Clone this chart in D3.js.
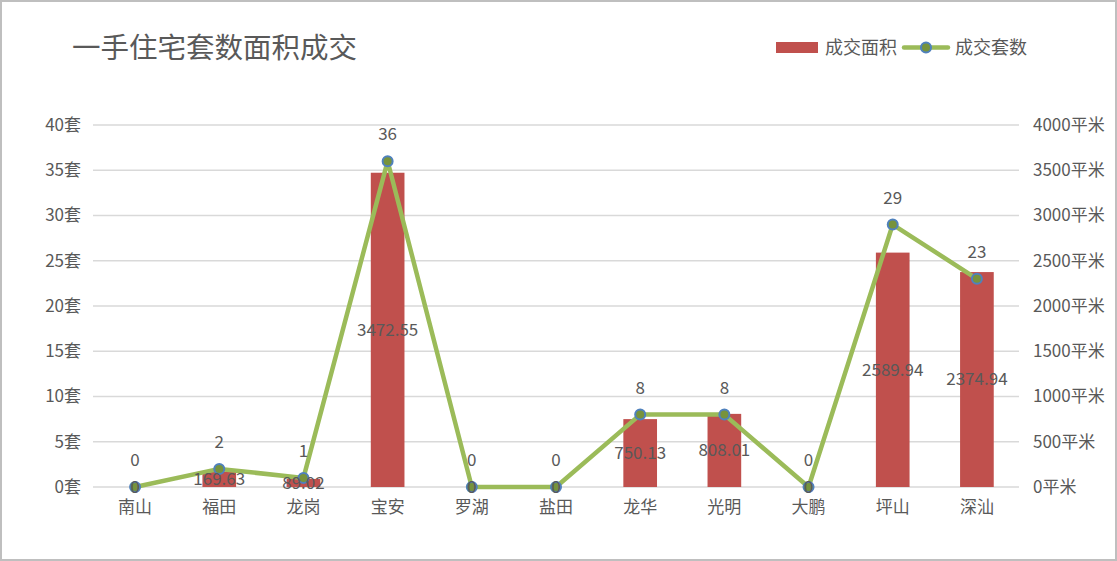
<!DOCTYPE html>
<html><head><meta charset="utf-8">
<script src="https://cdn.jsdelivr.net/npm/d3@7/dist/d3.min.js"></script>
<style>
html,body{margin:0;padding:0;background:#fff;}
svg text{font-family:"Noto Sans CJK SC","Microsoft YaHei",sans-serif;fill:#595959;}
</style></head>
<body>
<svg id="c" width="1117" height="561"></svg>
<script>
const categories = ["南山","福田","龙岗","宝安","罗湖","盐田","龙华","光明","大鹏","坪山","深汕"];
const areaValues = [0,169.63,89.02,3472.55,0,0,750.13,808.01,0,2589.94,2374.94];
const countValues = [0,2,1,36,0,0,8,8,0,29,23];
const leftTicks = [0,5,10,15,20,25,30,35,40];
const rightTicks = [0,500,1000,1500,2000,2500,3000,3500,4000];

const svg = d3.select("#c");
const W = 1117, H = 561;
svg.append("rect").attr("x",1).attr("y",1).attr("width",W-2).attr("height",H-2)
  .attr("fill","#fff").attr("stroke","#bfbfbf").attr("stroke-width",2);

const x = d3.scaleBand().domain(categories).range([93,1019]).paddingInner(0.6).paddingOuter(0.3);
const xc = d => x(d) + x.bandwidth()/2;
const yL = d3.scaleLinear().domain([0,40]).range([487,125]);
const yR = d3.scaleLinear().domain([0,4000]).range([487,125]);

// gridlines
svg.append("g").selectAll("line").data(leftTicks).join("line")
  .attr("x1",93).attr("x2",1019).attr("y1",d=>yL(d)).attr("y2",d=>yL(d))
  .attr("stroke","#d9d9d9").attr("stroke-width",1.5);

// left axis
const gL = svg.append("g").attr("transform","translate(93,0)")
  .call(d3.axisLeft(yL).tickValues(leftTicks).tickFormat(d=>d+"套").tickSize(0).tickPadding(12));
gL.select(".domain").remove();
gL.selectAll("text").style("font-size","17px").attr("fill","#595959");

// right axis
const gR = svg.append("g").attr("transform","translate(1019,0)")
  .call(d3.axisRight(yR).tickValues(rightTicks).tickFormat(d=>d+"平米").tickSize(0).tickPadding(14));
gR.select(".domain").remove();
gR.selectAll("text").style("font-size","17px").attr("fill","#595959");

// x axis
const gX = svg.append("g").attr("transform","translate(0,487)")
  .call(d3.axisBottom(x).tickSize(0).tickPadding(14));
gX.select(".domain").remove();
gX.selectAll("text").style("font-size","17px").attr("fill","#595959");

// bars
svg.append("g").selectAll("rect").data(categories).join("rect")
  .attr("x",d=>x(d)).attr("width",x.bandwidth())
  .attr("y",(d,i)=>yR(areaValues[i])).attr("height",(d,i)=>yR(0)-yR(areaValues[i]))
  .attr("fill","#C0504D");

// line
const line = d3.line().x((d,i)=>xc(categories[i])).y(d=>yL(d));
svg.append("path").datum(countValues).attr("d",line)
  .attr("fill","none").attr("stroke","#9BBB59").attr("stroke-width",4.5).attr("stroke-linejoin","round");

svg.append("g").selectAll("circle").data(countValues).join("circle")
  .attr("cx",(d,i)=>xc(categories[i])).attr("cy",d=>yL(d)).attr("r",5)
  .attr("fill","#77933C").attr("stroke","#4F81BD").attr("stroke-width",2);

// area labels (center of bar)
svg.append("g").selectAll("text").data(areaValues).join("text")
  .attr("x",(d,i)=>xc(categories[i])).attr("y",d=>(yR(d)+yR(0))/2)
  .attr("dy","0.35em").attr("text-anchor","middle").style("font-size","17px")
  .attr("fill","#404040").text(d=>d===0?"0":d.toFixed(2));

// count labels (above points)
svg.append("g").selectAll("text").data(countValues).join("text")
  .attr("x",(d,i)=>xc(categories[i])).attr("y",d=>yL(d)-27)
  .attr("dy","0.35em").attr("text-anchor","middle").style("font-size","17px")
  .attr("fill","#404040").text(d=>d);

// title
svg.append("text").attr("x",72).attr("y",58).style("font-size","28.5px").attr("fill","#595959")
  .text("一手住宅套数面积成交");

// legend
const lg = svg.append("g");
lg.append("rect").attr("x",776).attr("y",42).attr("width",42).attr("height",11).attr("fill","#C0504D");
lg.append("text").attr("x",825).attr("y",47.5).attr("dy","0.35em").style("font-size","18px").text("成交面积");
lg.append("line").attr("x1",904).attr("x2",948).attr("y1",47.5).attr("y2",47.5)
  .attr("stroke","#9BBB59").attr("stroke-width",4.5).attr("stroke-linecap","round");
lg.append("circle").attr("cx",926).attr("cy",47.5).attr("r",5)
  .attr("fill","#77933C").attr("stroke","#4F81BD").attr("stroke-width",2);
lg.append("text").attr("x",955).attr("y",47.5).attr("dy","0.35em").style("font-size","18px").text("成交套数");
</script>
</body></html>
